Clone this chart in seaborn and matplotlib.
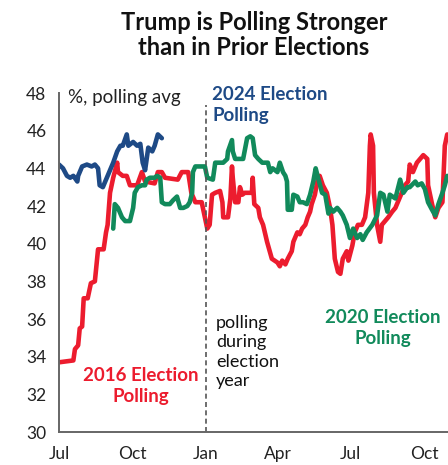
import matplotlib
matplotlib.use("Agg")
import matplotlib.pyplot as plt
import seaborn as sns
import pandas as pd

# ---- data (x = days since 1 July of the year before the election) ----
red_days = [0, 18, 20, 24, 26, 29, 31, 36, 40, 45, 49, 56, 59, 61, 64, 68, 73, 74, 80, 85,
            89, 98, 104, 108, 120, 124, 129, 133, 149, 154, 162, 166, 171, 179, 183, 186, 189,
            192, 196, 202, 205, 206, 212, 215, 217, 218, 221, 225, 227, 230, 233, 242, 243,
            245, 250, 252, 256, 261, 267, 274, 277, 280, 284, 287, 292, 294, 299, 302, 305,
            309, 312, 315, 317, 321, 324, 327, 331, 336, 340, 343, 346, 350, 353, 356, 361,
            363, 368, 371, 375, 380, 384, 388, 390, 391, 394, 395, 399, 403, 405, 409, 413,
            418, 422, 425, 430, 434, 438, 440, 444, 449, 453, 457, 462, 463, 468, 472, 476,
            481, 484, 487]
red_vals = [33.7, 33.8, 34.4, 34.6, 35.5, 35.6, 37.1, 37.1, 37.9, 38.0, 39.7, 39.7, 40.6, 41.0,
            42.7, 43.5, 44.3, 43.8, 43.6, 43.6, 43.1, 43.1, 43.8, 43.3, 43.2, 43.8, 43.8, 43.5,
            43.4, 43.8, 43.8, 42.7, 42.2, 42.2, 41.4, 40.8, 41.0, 42.6, 42.7, 42.8, 42.2, 41.4,
            41.4, 42.4, 44.1, 43.5, 42.2, 42.2, 43.0, 42.6, 42.7, 42.7, 43.5, 42.1, 41.9, 41.4,
            41.0, 40.1, 39.2, 39.0, 38.8, 39.1, 38.9, 39.2, 39.6, 40.1, 40.6, 40.5, 40.8, 41.0,
            41.4, 41.7, 42.1, 42.6, 43.3, 43.6, 43.1, 42.7, 41.9, 41.0, 39.2, 38.5, 38.4, 39.2,
            39.6, 39.1, 39.9, 40.6, 41.0, 41.0, 41.4, 42.7, 45.2, 45.8, 45.2, 42.7, 41.0, 40.1,
            41.0, 41.2, 41.4, 41.7, 41.9, 42.2, 42.7, 43.1, 43.3, 44.2, 43.8, 44.3, 44.5, 44.7,
            44.5, 43.1, 42.1, 41.4, 41.9, 42.2, 45.2, 45.8]

green_days = [68, 70, 74, 79, 83, 89, 93, 95, 99, 104, 108, 110, 114, 120, 123, 127, 129, 133,
              139, 143, 148, 152, 156, 161, 164, 167, 168, 171, 181, 183, 186, 193, 196, 206,
              211, 212, 217, 218, 221, 231, 236, 240, 243, 246, 250, 255, 262, 265, 268, 274,
              277, 281, 284, 286, 287, 292, 294, 299, 302, 306, 311, 315, 319, 322, 325, 330,
              334, 338, 340, 344, 349, 353, 356, 361, 365, 369, 374, 378, 381, 386, 393, 399,
              403, 407, 412, 415, 422, 428, 432, 437, 440, 447, 450, 455, 459, 463, 468, 472,
              476, 481, 484, 487]
green_vals = [40.8, 42.1, 41.9, 41.4, 41.2, 41.2, 41.9, 42.7, 43.0, 43.1, 43.1, 43.4, 43.5,
              43.5, 43.6, 43.5, 42.2, 42.1, 42.1, 42.3, 42.5, 41.9, 41.9, 42.0, 42.2, 42.7,
              43.8, 44.1, 44.1, 44.1, 43.5, 43.4, 44.3, 44.3, 44.5, 44.9, 45.5, 44.9, 44.5,
              44.5, 45.6, 45.7, 45.6, 44.7, 44.5, 44.3, 44.3, 43.8, 44.0, 43.8, 44.3, 43.8,
              43.6, 43.3, 41.8, 41.8, 42.6, 42.5, 42.2, 42.2, 42.1, 42.6, 43.3, 44.0, 43.5,
              42.7, 42.6, 41.6, 41.9, 41.7, 41.9, 41.7, 41.5, 41.0, 40.3, 40.8, 40.3, 40.5,
              40.2, 40.6, 41.0, 41.5, 42.7, 42.6, 41.7, 42.6, 42.4, 43.4, 42.7, 43.0, 43.0,
              43.3, 43.1, 43.2, 42.9, 42.2, 41.8, 41.5, 42.1, 42.7, 43.1, 43.6]

blue_days = [0, 5, 10, 14, 18, 23, 24, 29, 35, 41, 45, 49, 51, 55, 60, 64, 68, 73, 77, 80,
             85, 87, 93, 98, 102, 105, 108, 112, 117, 120, 124, 129]
blue_vals = [44.2, 44.0, 43.6, 43.5, 43.6, 43.3, 43.6, 44.1, 44.2, 44.1, 44.2, 44.0, 43.1,
             43.0, 43.5, 43.9, 44.3, 44.9, 45.2, 45.2, 45.8, 45.2, 45.4, 45.2, 45.3, 44.3,
             43.9, 45.1, 44.9, 45.2, 45.8, 45.6]

tick_days = [0, 92, 184, 275, 366, 458]
tick_labels = ["Jul", "Oct", "Jan", "Apr", "Jul", "Oct"]
y_ticks = [30, 32, 34, 36, 38, 40, 42, 44, 46, 48]

RED = "#ec1c2e"
GREEN = "#118a5b"
BLUE = "#1e4a86"

W, H = 448, 465
sns.set_theme(style="white")
plt.rcParams["font.family"] = ["Lato", "DejaVu Sans"]

fig = plt.figure(figsize=(W / 100, H / 100), dpi=100)
ax = fig.add_axes([59 / W, 1 - 432 / H, (448 - 59) / W, (432 - 93) / H])

df_red = pd.DataFrame({"day": red_days, "val": red_vals})
df_green = pd.DataFrame({"day": green_days, "val": green_vals})
df_blue = pd.DataFrame({"day": blue_days, "val": blue_vals})

lw = 3.3
for df, col in [(df_red, RED), (df_green, GREEN), (df_blue, BLUE)]:
    sns.lineplot(data=df, x="day", y="val", ax=ax, color=col, lw=lw, estimator=None,
                 sort=False, solid_joinstyle="round", solid_capstyle="round")

ax.axvline(184, ymin=0, ymax=(432 - 105) / (432 - 93), color="#555555", ls=(0, (3, 2)),
           lw=1.2)

ax.set_xlim(0, 488)
ax.set_ylim(30, 48)
ax.set_xticks(tick_days)
ax.set_xticklabels(tick_labels)
ax.set_yticks(y_ticks)
ax.set_xlabel("")
ax.set_ylabel("")

for s in ["top", "right"]:
    ax.spines[s].set_visible(False)
for s in ["left", "bottom"]:
    ax.spines[s].set_color("#666666")
    ax.spines[s].set_linewidth(1.4)
ax.tick_params(axis="both", which="both", length=5, width=1.4, color="#666666",
               labelsize=12.5, labelcolor="#222222", direction="out")
ax.tick_params(axis="x", pad=5)
ax.tick_params(axis="y", pad=4)

fig.text(254 / W, 1 - 35 / H, "Trump is Polling Stronger\nthan in Prior Elections",
         ha="center", va="center", fontsize=17, fontweight="bold", color="#111111",
         linespacing=1.12)

fig.text(68 / W, 1 - 97 / H, "%, polling avg", ha="left", va="center", fontsize=13.5,
         color="#222222")
fig.text(212 / W, 1 - 105 / H, "2024 Election\nPolling", ha="left", va="center",
         fontsize=13.5, fontweight="bold", color=BLUE, linespacing=1.3)
fig.text(141 / W, 1 - 386 / H, "2016 Election\nPolling", ha="center", va="center",
         fontsize=13.5, fontweight="bold", color=RED, linespacing=1.3)
fig.text(383 / W, 1 - 328 / H, "2020 Election\nPolling", ha="center", va="center",
         fontsize=13.5, fontweight="bold", color=GREEN, linespacing=1.3)
fig.text(216 / W, 1 - 352 / H, "polling\nduring\nelection\nyear", ha="left", va="center",
         fontsize=13, color="#111111", linespacing=1.25)

fig.savefig("out.png", dpi=100)
